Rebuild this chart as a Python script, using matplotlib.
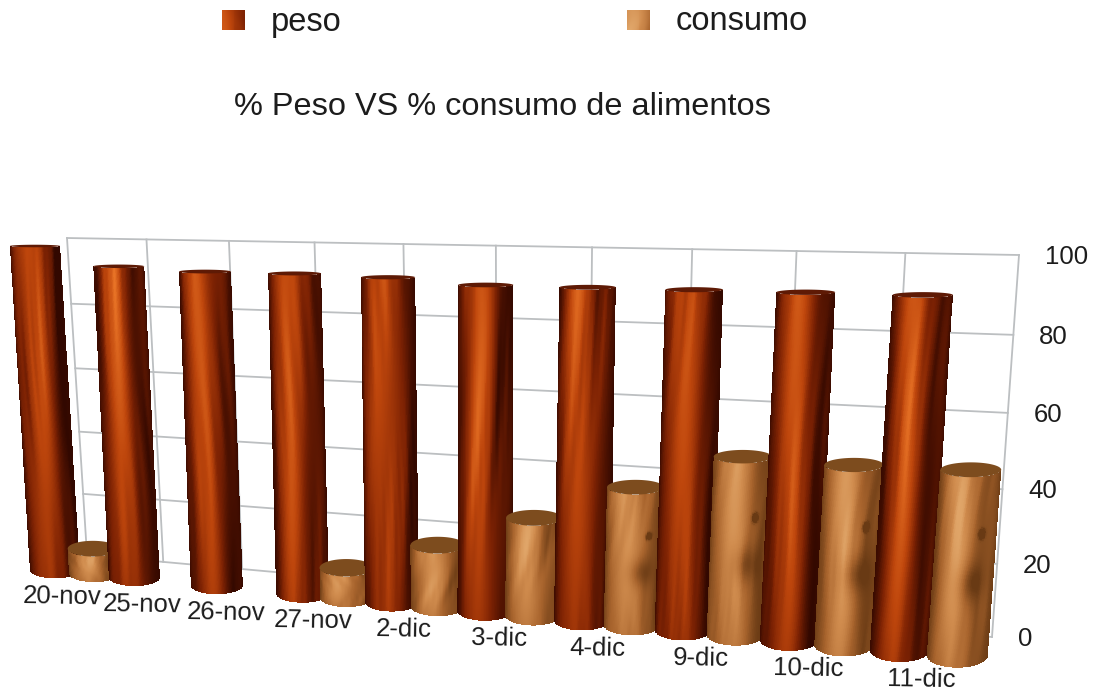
import numpy as np
import matplotlib
matplotlib.use("Agg")
import matplotlib.pyplot as plt

plt.rcParams['font.family'] = ['Liberation Sans', 'DejaVu Sans']

# values
fechas = ["20-nov", "25-nov", "26-nov", "27-nov", "2-dic", "3-dic", "4-dic", "9-dic", "10-dic", "11-dic"]
peso = [100, 94.5, 93.5, 93.5, 93, 91.5, 91.5, 91.5, 91.5, 91.5]
consumo = [8, 0, 0, 9, 18, 28, 38.5, 48.5, 48, 48.5]
ticks = [0, 20, 40, 60, 80, 100]
titulo = "% Peso VS % consumo de alimentos"

# corners of the two planes in picture pixels, (col, value) -> (x, y)
WALL = {(0, 0): (87, 555), (0, 100): (67, 238), (10, 0): (992, 637), (10, 100): (1019, 255)}
ROW = {(0, 0): (55, 570), (0, 100): (35, 246), (9, 0): (900, 650), (9, 100): (925, 260)}

PESO_STOPS = [(0, (50, 8, 0)), (.35, (125, 34, 3)), (.7, (190, 70, 12)), (1, (232, 115, 38))]
CONS_STOPS = [(0, (105, 58, 20)), (.35, (168, 100, 45)), (.7, (208, 140, 78)), (1, (232, 178, 118))]


def homography(corners):
    a, b = [], []
    for (u, v), (x, y) in corners.items():
        a.append([u, v, 1, 0, 0, 0, -u * x, -v * x])
        a.append([0, 0, 0, u, v, 1, -u * y, -v * y])
        b += [x, y]
    h = np.linalg.solve(np.array(a, float), np.array(b, float))
    return np.append(h, 1).reshape(3, 3)


def project(h, u, v):
    u, v = np.asarray(u, float), np.asarray(v, float)
    w = h[2, 0] * u + h[2, 1] * v + h[2, 2]
    return (h[0, 0] * u + h[0, 1] * v + h[0, 2]) / w, (h[1, 0] * u + h[1, 1] * v + h[1, 2]) / w


H_WALL = homography(WALL)
H_ROW = homography(ROW)


def wood(u, v, seed, stops, knot=False, contrast=1.0):
    # grain runs a bit diagonal, built from a few sines, fading in and out along the bar
    s = u + 0.3 * v * (1 if seed > 4 else -0.4)
    env1 = 0.6 + 0.4 * np.sin(4.5 * v + seed * 1.3)
    env2 = 0.5 + 0.5 * np.sin(7 * v + seed * 2.1 + 2 * u)
    streak = (0.55 * np.sin(5 * s + seed * 1.7 + 1.2 * np.sin(3 * v + seed)) * env1
              + 0.30 * np.sin(13 * s + seed * 2.3 + 1.5 * np.sin(5 * v + seed * .7)) * env2
              + 0.12 * np.sin(31 * s + seed + 2 * np.sin(6 * v)) * env1 * env2)
    shade = np.exp(-((u + 0.25) / 0.6) ** 2)
    t = 0.10 + 0.68 * shade + 0.26 * contrast * streak
    t = t * (1 - 0.8 * np.abs(u) ** 9) * (1 - 0.28 * v ** 2)
    if knot:
        t = t - 0.9 * np.exp(-(((u - 0.5) / 0.09) ** 2 + ((v - 0.3) / 0.022) ** 2))
        t = t - 0.3 * np.exp(-(((u - 0.2) / 0.4) ** 2 + ((v - 0.55) / 0.1) ** 2))
    t = np.clip(t, 0, 1)
    xs = [p[0] for p in stops]
    return np.dstack([np.interp(t, xs, [p[1][k] / 255 for p in stops]) for k in range(3)])


def cylinder(ax, col, value, stops, seed, cap, knot=False, contrast=1.0):
    nu, nv = 90, 140
    U, V = np.meshgrid(np.linspace(-1, 1, nu + 1), np.linspace(0, 1, nv + 1))
    # V=0 top of the bar, V=1 floor
    cx, cy = project(H_ROW, col, value * (1 - V))
    _, y0 = project(H_ROW, col, 0)
    _, y100 = project(H_ROW, col, 100)
    rx = 25 * (y0 - y100) / 324
    ratio = 0.05 + 0.00086 * (cy - 245)
    X = cx + U * rx
    Y = cy + np.sqrt(np.clip(1 - U ** 2, 0, 1)) * rx * ratio
    uc = 0.5 * (U[:-1, :-1] + U[1:, 1:])
    vc = 0.5 * (V[:-1, :-1] + V[1:, 1:])
    ax.pcolormesh(X, Y, wood(uc, vc, seed, stops, knot, contrast), zorder=3 + seed * 0.1, linewidth=0)
    th = np.linspace(0, 2 * np.pi, 80)
    ax.fill(cx[0, 0] + rx * np.cos(th), cy[0, 0] + rx * ratio[0, 0] * np.sin(th),
            color=cap, lw=0, zorder=3 + seed * 0.1)


fig = plt.figure(figsize=(11.03, 6.92), dpi=100)
ax = fig.add_axes([0, 0, 1, 1])
ax.set_xlim(0, 1103)
ax.set_ylim(692, 0)
ax.axis("off")

# back wall
for t in ticks:
    x, y = project(H_WALL, [0, 10], [t, t])
    ax.plot(x, y, color="#bcbfc1", lw=1.3, zorder=1)
for c in range(11):
    x, y = project(H_WALL, [c, c], [0, 100])
    ax.plot(x, y, color="#bcbfc1", lw=1.3, zorder=1)

for t in ticks:
    x, y = project(H_WALL, 10, t)
    ax.text(x + 26, y + 2, str(t), fontsize=18.5, ha="left", va="center", color="#1c1c1c")

for i in range(len(fechas)):
    cylinder(ax, i, peso[i], PESO_STOPS, i, "#5e1a05")
    if consumo[i] > 0:
        cylinder(ax, i + 0.5, consumo[i], CONS_STOPS, i + 0.5, "#7d4c1e", knot=consumo[i] > 30, contrast=0.75)
    x, y = project(H_ROW, i + 0.07 + 0.015 * i, -8.5 + 0.12 * i)
    ax.text(x, y, fechas[i], fontsize=18.5, ha="center", va="center", color="#1c1c1c",
            rotation=-1, rotation_mode="anchor", zorder=20)

# legend, swatches carry the same wood
for x0, nombre, stops, sd in [(222, "peso", PESO_STOPS, 2), (627, "consumo", CONS_STOPS, 5)]:
    U, V = np.meshgrid(np.linspace(-1, 1, 25), np.linspace(0, 1, 21))
    uc = 0.5 * (U[:-1, :-1] + U[1:, 1:])
    vc = 0.5 * (V[:-1, :-1] + V[1:, 1:])
    ax.pcolormesh(x0 + (U + 1) * 11.5, 10 + V * 20, wood(uc * 0.3, vc * 0.3, sd, stops), linewidth=0)
    ax.text(x0 + 49, 22, nombre, fontsize=23.5, ha="left", va="center", color="#1c1c1c")

ax.text(502, 107, titulo, fontsize=23.4, ha="center", va="center", color="#1c1c1c")

fig.savefig("out.png", dpi=100)
